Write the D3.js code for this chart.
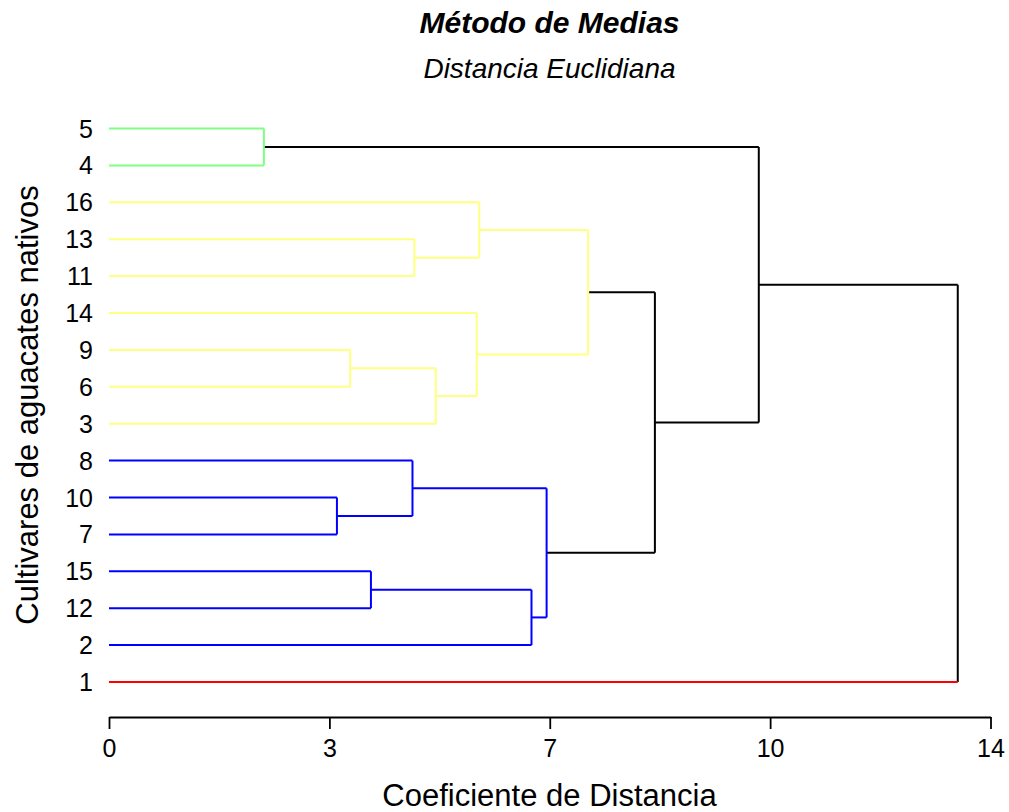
<!DOCTYPE html>
<html>
<head>
<meta charset="utf-8">
<script src="https://cdn.jsdelivr.net/npm/d3@7"></script>
<style>
  body { margin: 0; background: #ffffff; }
  text { font-family: "Liberation Sans", Arial, sans-serif; }
</style>
</head>
<body>
<div id="chart"></div>
<script>
// Leaf order as drawn, top to bottom
const leafOrder = ['5', '4', '16', '13', '11', '14', '9', '6', '3', '8', '10', '7', '15', '12', '2', '1'];

// Merges, hclust style: leaves by label, earlier merges as "m<n>"
const mergePairs = [
  ['5', '4'],     // m1
  ['13', '11'],   // m2
  ['16', 'm2'],   // m3
  ['9', '6'],     // m4
  ['m4', '3'],    // m5
  ['14', 'm5'],   // m6
  ['m3', 'm6'],   // m7
  ['10', '7'],    // m8
  ['8', 'm8'],    // m9
  ['15', '12'],   // m10
  ['m10', '2'],   // m11
  ['m9', 'm11'],  // m12
  ['m7', 'm12'],  // m13
  ['m1', 'm13'],  // m14
  ['m14', '1']    // m15
];
const mergeHeights = [2.46, 4.85, 5.88, 3.83, 5.19, 5.84, 7.61, 3.62, 4.82, 4.16, 6.71, 6.95, 8.67, 10.32, 13.48];

// Clusters and their branch colours
const clusterLeaves = [
  ['5', '4'],
  ['16', '13', '11', '14', '9', '6', '3'],
  ['8', '10', '7', '15', '12', '2'],
  ['1']
];
const clusterColors = ['#80ff80', '#ffff80', '#0000ff', '#ff0000'];

// Axis ticks
const tickValues = [0, 3.5, 7, 10.5, 14];
const tickLabels = ['0', '3', '7', '10', '14'];

// Build tree from the merge list
const nodes = {};
leafOrder.forEach(l => { nodes[l] = { name: l, height: 0 }; });
mergePairs.forEach((p, i) => {
  nodes['m' + (i + 1)] = { name: 'm' + (i + 1), height: mergeHeights[i], children: [nodes[p[0]], nodes[p[1]]] };
});
const root = d3.hierarchy(nodes['m' + mergePairs.length]);

const clusterOf = {};
clusterLeaves.forEach((ls, i) => ls.forEach(l => { clusterOf[l] = i; }));

// Set up dimensions
const W = 1009, H = 812;
const svg = d3.select('#chart')
  .append('svg')
  .attr('width', W)
  .attr('height', H);

// Scales
const x = d3.scaleLinear()
  .domain([0, 14])
  .range([109, 990.5]);

const y = d3.scalePoint()
  .domain(leafOrder)
  .range([128.5, 682]);

// Positions: leaves on the point scale, inner nodes at the midpoint of their children
root.eachAfter(d => {
  if (!d.children) {
    d.py = y(d.data.name);
  } else {
    d.py = (d.children[0].py + d.children[1].py) / 2;
  }
  d.px = x(d.data.height);
  const cl = new Set(d.leaves().map(l => clusterOf[l.data.name]));
  d.color = cl.size === 1 ? clusterColors[[...cl][0]] : '#000000';
});

const links = svg.append('g').attr('fill', 'none').attr('stroke-width', 2);

root.each(d => {
  if (!d.children) return;
  // vertical bar of the merge
  links.append('line')
    .attr('x1', d.px).attr('x2', d.px)
    .attr('y1', d.children[0].py).attr('y2', d.children[1].py)
    .attr('stroke', d.color);
  // horizontal branches to each child
  d.children.forEach(c => {
    links.append('line')
      .attr('x1', d.px).attr('x2', c.px)
      .attr('y1', c.py).attr('y2', c.py)
      .attr('stroke', c.children ? d.color : c.color);
  });
});

// Leaf labels
svg.append('g')
  .selectAll('text')
  .data(leafOrder)
  .join('text')
  .attr('x', 93)
  .attr('y', d => y(d))
  .attr('dy', '0.36em')
  .attr('text-anchor', 'end')
  .attr('font-size', '25px')
  .attr('fill', '#000')
  .text(d => d);

// X axis
const xAxis = d3.axisBottom(x)
  .tickValues(tickValues)
  .tickFormat((d, i) => tickLabels[i])
  .tickSize(12)
  .tickSizeOuter(0)
  .tickPadding(10);

const gx = svg.append('g')
  .attr('transform', 'translate(0,717)')
  .call(xAxis);
gx.select('.domain').attr('stroke-width', 1.8);
gx.selectAll('.tick line').attr('stroke-width', 1.8);
gx.selectAll('.tick text')
  .attr('font-size', '25px')
  .attr('font-family', '"Liberation Sans", Arial, sans-serif')
  .attr('fill', '#000');

// Axis titles
svg.append('text')
  .attr('x', 549.5)
  .attr('y', 806)
  .attr('text-anchor', 'middle')
  .attr('font-size', '31px')
  .attr('fill', '#000')
  .text('Coeficiente de Distancia');

svg.append('text')
  .attr('transform', 'translate(38,405) rotate(-90)')
  .attr('text-anchor', 'middle')
  .attr('font-size', '31px')
  .attr('fill', '#000')
  .text('Cultivares de aguacates nativos');

// Title and subtitle
svg.append('text')
  .attr('x', 549.5)
  .attr('y', 33)
  .attr('text-anchor', 'middle')
  .attr('font-size', '30px')
  .attr('font-weight', 'bold')
  .attr('font-style', 'italic')
  .attr('fill', '#000')
  .text('Método de Medias');

svg.append('text')
  .attr('x', 549.5)
  .attr('y', 78)
  .attr('text-anchor', 'middle')
  .attr('font-size', '28px')
  .attr('font-style', 'italic')
  .attr('fill', '#000')
  .text('Distancia Euclidiana');
</script>
</body>
</html>
